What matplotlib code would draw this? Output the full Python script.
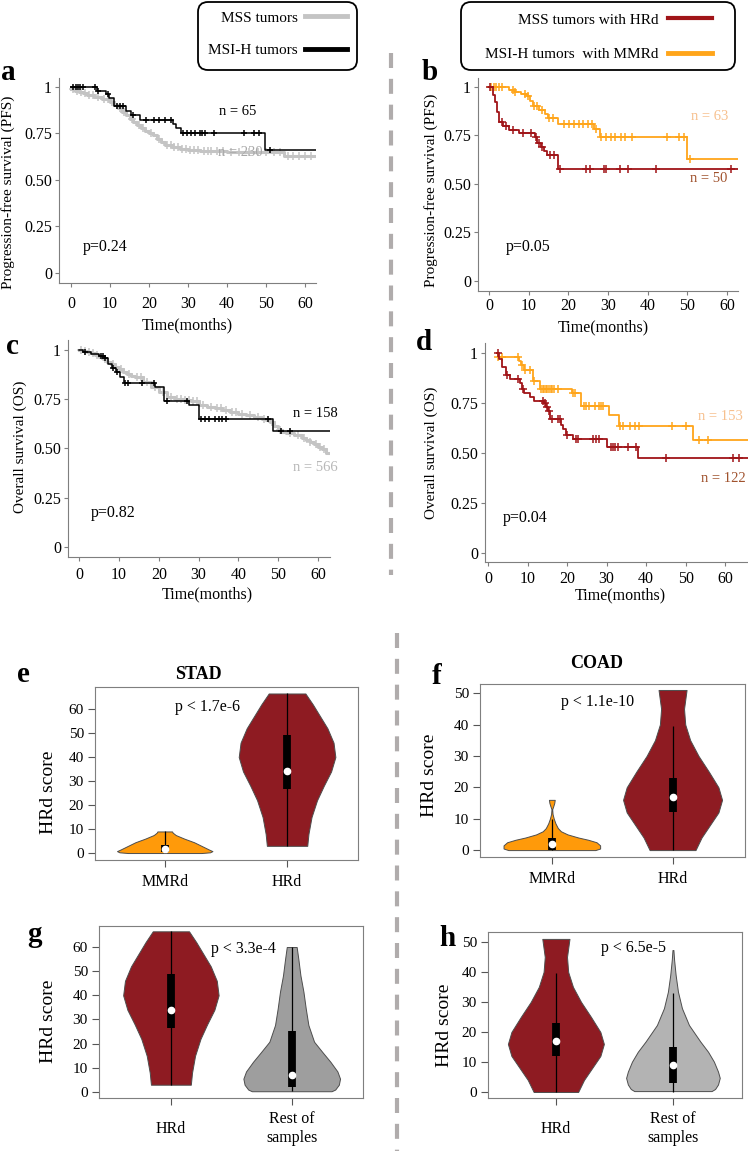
import numpy as np
import matplotlib
matplotlib.use("Agg")
import matplotlib.pyplot as plt
from matplotlib.lines import Line2D
from matplotlib.patches import FancyBboxPatch
from matplotlib.transforms import IdentityTransform

plt.rcParams["font.family"] = ["Liberation Serif", "DejaVu Serif"]

W, H = 748, 1151

# ── Kaplan-Meier step data (months, survival) ───────────────────────────────
# a: PFS, MSS vs MSI-H
a_mss_t = [0, 1, 2, 3, 4, 6, 8, 10, 11, 12, 13, 14, 15, 16, 17, 18, 19, 20, 21, 22,
           23, 24, 26, 28, 30, 33, 40, 54.7]
a_mss_s = [0.99, 0.98, 0.975, 0.965, 0.955, 0.945, 0.935, 0.92, 0.905, 0.885, 0.865,
           0.85, 0.83, 0.81, 0.795, 0.78, 0.765, 0.755, 0.74, 0.72, 0.705, 0.69,
           0.675, 0.668, 0.662, 0.657, 0.652, 0.627]
a_mss_cens = [0.5, 1.5, 2.5, 3.5, 4.5, 5.5, 7, 8.5, 9.5, 10.5, 12.5, 13.5, 15.5, 17.5,
              18.5, 20.5, 22.5, 24.5, 25.5, 26.5, 27.5, 28.5, 29.5, 30.5, 31.5, 32.5,
              34, 35, 36, 37.5, 39, 41, 43, 45.5, 48, 50, 52, 53.5, 55.5, 57, 58.5, 60, 61.5]
a_msi_t = [0, 6.6, 9.0, 9.8, 11.1, 14.0, 15.3, 17.7, 26.2, 27.0, 28.3, 49.7]
a_msi_s = [1.0, 0.98, 0.96, 0.94, 0.90, 0.87, 0.85, 0.82, 0.80, 0.78, 0.75, 0.66]
a_msi_cens = [0.5, 1.2, 1.8, 2.4, 3.0, 6.2, 7.0, 9.4, 11.8, 12.6, 13.4, 16.0, 19.2,
              21.2, 22.6, 24.2, 25.6, 28.8, 29.8, 30.8, 31.8, 33.0, 33.6, 34.4, 36.6,
              44.4, 46.8, 48.2, 51.0]

# b: PFS, MSS with HRd vs MSI-H with MMRd
b_hrd_t = [0, 0.9, 1.6, 2.1, 2.6, 3.6, 5.0, 7.5, 11.6, 12.2, 13.0, 13.8, 14.6, 17.4]
b_hrd_s = [1.0, 0.96, 0.92, 0.87, 0.82, 0.80, 0.78, 0.76, 0.74, 0.71, 0.69, 0.67, 0.65, 0.575]
b_hrd_cens = [0.3, 3.2, 4.2, 6.0, 8.5, 10.6, 11.9, 12.5, 13.4, 15.4, 16.4, 18.0, 24.5,
              25.4, 29.0, 29.6, 33.0, 35.0, 42.0, 61.0]
b_mmr_t = [0, 5.0, 6.5, 8.0, 9.5, 10.3, 11.0, 12.5, 14.0, 14.8, 17.5, 26.5, 28.0, 50.0]
b_mmr_s = [1.0, 0.985, 0.975, 0.965, 0.955, 0.93, 0.90, 0.88, 0.86, 0.84, 0.81, 0.785, 0.74, 0.63]
b_mmr_cens = [0.5, 1.2, 1.8, 2.5, 3.2, 6.0, 6.6, 9.0, 9.8, 11.4, 12.2, 13.4, 15.2, 16.2,
              19.0, 20.2, 21.4, 22.6, 23.8, 25.0, 26.0, 27.0, 28.3, 29.6, 30.8, 31.8,
              33.2, 34.4, 36.0, 44.8, 48.0, 49.2, 50.8]

# c: OS, MSS vs MSI-H
c_mss_t = [0, 1, 2, 3, 4, 5, 6, 7, 8, 9, 10, 11, 12, 13, 14, 16, 18, 20, 22, 24, 26,
           28, 30, 32, 34, 36, 38, 40, 42, 44, 46, 47, 48, 49, 50, 51, 52, 54, 56, 57,
           58, 59, 60, 61, 62]
c_mss_s = [1.0, 0.995, 0.99, 0.985, 0.975, 0.965, 0.955, 0.94, 0.93, 0.915, 0.905, 0.89,
           0.88, 0.87, 0.86, 0.835, 0.81, 0.785, 0.76, 0.75, 0.745, 0.74, 0.72, 0.712,
           0.705, 0.695, 0.685, 0.675, 0.668, 0.66, 0.652, 0.645, 0.635, 0.615, 0.595,
           0.585, 0.58, 0.57, 0.555, 0.545, 0.535, 0.525, 0.51, 0.495, 0.475]
c_mss_cens = [0.5, 1.5, 2.5, 3.5, 4.5, 6.5, 8.5, 10.5, 12.5, 14.5, 15.5, 17, 19, 21, 23,
              24.5, 25.5, 26.5, 27.5, 28.5, 29.5, 31, 33, 34.5, 35.5, 37, 38.5, 39.5, 41,
              43, 45, 46.5, 48.5, 50.5, 53, 55, 56.5, 58, 59.5, 60.5, 61.5]
c_msi_t = [0, 1.0, 3.0, 5.0, 6.5, 7.2, 8.2, 9.2, 10.2, 11.2, 19.0, 21.2, 27.5, 30.0, 48.8]
c_msi_s = [1.0, 0.99, 0.98, 0.97, 0.96, 0.93, 0.91, 0.89, 0.86, 0.83, 0.81, 0.74, 0.72,
           0.65, 0.59]
c_msi_cens = [1.5, 5.5, 6.0, 6.6, 8.6, 9.6, 11.6, 12.2, 15.8, 18.8, 22.0, 27.0, 30.5,
              31.5, 32.5, 34.0, 35.0, 35.8, 37.0, 47.5, 50.8, 53.0]

# d: OS, MSS with HRd vs MSI-H with MMRd
d_hrd_t = [2.2, 2.8, 3.5, 4.5, 5.5, 8.0, 8.6, 9.1, 10.5, 11.5, 14.2, 14.7, 15.1, 15.6,
           18.5, 19.0, 19.6, 21.5, 30.0, 38.0]
d_hrd_s = [1.0, 0.97, 0.93, 0.89, 0.87, 0.85, 0.82, 0.80, 0.78, 0.76, 0.75, 0.73, 0.71,
           0.67, 0.64, 0.62, 0.59, 0.57, 0.53, 0.475]
d_hrd_cens = [2.6, 4.8, 7.6, 8.8, 13.8, 14.4, 14.9, 15.3, 16.2, 17.6, 18.2, 20.0, 22.3,
              22.8, 26.6, 27.2, 28.0, 31.0, 31.6, 32.2, 33.0, 35.5, 37.5, 45.0, 62.0, 63.6]
d_mmr_t = [2.2, 2.6, 7.8, 8.3, 9.0, 11.3, 13.2, 21.2, 23.5, 30.5, 33.2, 51.8]
d_mmr_s = [1.0, 0.98, 0.96, 0.94, 0.915, 0.86, 0.82, 0.80, 0.735, 0.69, 0.635, 0.565]
d_mmr_cens = [2.6, 3.6, 7.6, 8.6, 9.4, 10.6, 11.6, 13.4, 13.8, 14.2, 14.6, 15.0, 15.4,
              15.8, 16.2, 16.6, 17.6, 21.6, 22.0, 24.2, 24.8, 25.6, 27.0, 28.0, 28.6,
              29.2, 33.4, 34.2, 36.0, 37.2, 38.2, 46.6, 50.0, 53.4, 55.6]

surv_ticks = [0, 0.25, 0.5, 0.75, 1.0]
surv_tick_labels = ["0", "0.25", "0.50", "0.75", "1"]
month_ticks = [0, 10, 20, 30, 40, 50, 60]

# ── Violin profiles: HRd score level -> half width (category units) ─────────
stad_mmr_y = [0, 0.3, 0.8, 1.5, 3, 4.5, 6, 7.5, 8.5, 9]
stad_mmr_w = [0.30, 0.37, 0.39, 0.36, 0.30, 0.24, 0.16, 0.09, 0.065, 0.06]
stad_hrd_y = [3, 8, 15, 22, 28, 34, 40, 46, 52, 57, 62, 66.5]
stad_hrd_w = [0.165, 0.175, 0.20, 0.245, 0.30, 0.36, 0.395, 0.38, 0.33, 0.27, 0.21, 0.15]
stad_rest_y = [0.3, 1, 3, 5.5, 8.5, 12.5, 16.5, 20.8, 27.7, 34.6, 41.5, 48.3, 55, 60]
stad_rest_w = [0.33, 0.36, 0.39, 0.40, 0.378, 0.32, 0.254, 0.185, 0.138, 0.116, 0.097,
               0.072, 0.055, 0.041]
coad_mmr_y = [0, 0.5, 1.5, 2.5, 3.3, 4, 5, 6, 7, 8.5, 10, 11.5, 13, 14, 15, 16]
coad_mmr_w = [0.36, 0.40, 0.40, 0.37, 0.30, 0.22, 0.13, 0.075, 0.05, 0.03, 0.016, 0.006,
              0.003, 0.012, 0.02, 0.024]
coad_hrd_y = [0, 4, 8, 12, 16, 20, 25, 30, 35, 40, 45, 51]
coad_hrd_w = [0.19, 0.24, 0.31, 0.38, 0.41, 0.38, 0.30, 0.215, 0.146, 0.105, 0.095, 0.116]
coad_rest_y = [0.3, 1, 2.5, 4.7, 6.8, 10.1, 13.4, 16.8, 22.3, 27.9, 33.4, 39, 44, 47.3]
coad_rest_w = [0.33, 0.36, 0.385, 0.40, 0.385, 0.35, 0.30, 0.234, 0.137, 0.077, 0.043,
               0.023, 0.01, 0.004]

# box stats: (low whisker, q1, median, q3, high whisker)
stad_mmr_box = (0, 0.5, 1.5, 3.5, 9)
stad_hrd_box = (3, 26.5, 34, 49, 66.5)
stad_rest_box = (0.3, 1.9, 7, 25.2, 60)
coad_mmr_box = (0, 0, 2, 4, 10)
coad_hrd_box = (0, 12, 17, 23, 39.5)
coad_rest_box = (0, 3.1, 9, 15, 33)

ORANGE = "#ff9a0a"
DARKRED = "#8e1b22"
KM_RED = "#a01418"
KM_ORANGE = "#ffa51a"

fig = plt.figure(figsize=(W / 100, H / 100), dpi=100)


def px_box(l, t, r, b):
    return [l / W, 1 - b / H, (r - l) / W, (b - t) / H]


def km(ax, t, s, t_end, cens, color, lw, ms=5.5):
    tt = list(t) + [t_end]
    ss = list(s) + [s[-1]]
    ax.step(tt, ss, where="post", color=color, lw=lw)
    cens = np.asarray(cens)
    idx = np.searchsorted(t, cens, side="right") - 1
    ax.plot(cens, np.asarray(s)[idx], "+", color=color, ms=ms, mew=1.1)


def surv_axes(box, xlim, ylim, ylabel, ylab_xy, xlab_xy, xpad):
    ax = fig.add_axes(px_box(*box))
    ax.set_facecolor("none")
    ax.set_xlim(*xlim)
    ax.set_ylim(*ylim)
    for sp in ("top", "right"):
        ax.spines[sp].set_visible(False)
    for sp in ("left", "bottom"):
        ax.spines[sp].set_color("#7f7f7f")
    ax.set_yticks(surv_ticks)
    ax.set_yticklabels(surv_tick_labels)
    ax.set_xticks(month_ticks)
    ax.tick_params(axis="y", colors="#7f7f7f", labelcolor="black", labelsize=11.5, length=3, pad=2)
    ax.tick_params(axis="x", colors="#7f7f7f", labelcolor="black", labelsize=11.5, length=3, pad=xpad)
    ax.set_ylabel(ylabel, fontsize=11)
    ax.yaxis.set_label_coords(*ylab_xy)
    ax.set_xlabel("Time(months)", fontsize=11.5)
    ax.xaxis.set_label_coords(*xlab_xy)
    return ax


# ── a ───────────────────────────────────────────────────────────────────────
ax = surv_axes((59, 78, 316, 283), (-3.1, 62.8), (-0.054, 1.048),
               "Progression-free survival (PFS)", (-0.171, 0.44), (0.5, -0.17), 6)
km(ax, a_mss_t, a_mss_s, 62.7, a_mss_cens, "#c4c4c4", 2.2)
km(ax, a_msi_t, a_msi_s, 62.7, a_msi_cens, "black", 1.1, ms=5)
ax.text(42.6, 0.866, "n = 65", fontsize=10.5, ha="center", va="center")
ax.text(43.3, 0.65, "n = 230", fontsize=10.5, ha="center", va="center", color="#a8a8a8")
ax.text(8.7, 0.14, "p=0.24", fontsize=11.5, ha="center", va="center")

# ── b ───────────────────────────────────────────────────────────────────────
ax = surv_axes((478, 78, 738, 291), (-2.8, 62.8), (-0.052, 1.046),
               "Progression-free survival (PFS)", (-0.154, 0.474), (0.48, -0.135), 2)
km(ax, b_mmr_t, b_mmr_s, 63, b_mmr_cens, KM_ORANGE, 1.3)
km(ax, b_hrd_t, b_hrd_s, 63, b_hrd_cens, KM_RED, 1.3)
ax.text(55.7, 0.845, "n = 63", fontsize=10.5, ha="center", va="center", color="#f7c08e")
ax.text(55.4, 0.53, "n = 50", fontsize=10.5, ha="center", va="center", color="#a0522d")
ax.text(9.8, 0.175, "p=0.05", fontsize=11.5, ha="center", va="center")

# ── c ───────────────────────────────────────────────────────────────────────
ax = surv_axes((68, 340, 330, 557), (-2.8, 63.0), (-0.05, 1.05),
               "Overall survival (OS)", (-0.156, 0.507), (0.53, -0.135), 4.5)
km(ax, c_mss_t, c_mss_s, 62.7, c_mss_cens, "#c4c4c4", 2.2)
km(ax, c_msi_t, c_msi_s, 63, c_msi_cens, "black", 1.1, ms=5)
ax.text(59.4, 0.675, "n = 158", fontsize=10.5, ha="center", va="center")
ax.text(59.4, 0.406, "n = 566", fontsize=10.5, ha="center", va="center", color="#b8b8b8")
ax.text(8.6, 0.173, "p=0.82", fontsize=11.5, ha="center", va="center")

# ── d ───────────────────────────────────────────────────────────────────────
ax = surv_axes((485, 343, 748, 562), (-0.8, 65.8), (-0.045, 1.05),
               "Overall survival (OS)", (-0.179, 0.498), (0.513, -0.115), 3.5)
km(ax, d_mmr_t, d_mmr_s, 65.8, d_mmr_cens, KM_ORANGE, 1.3)
km(ax, d_hrd_t, d_hrd_s, 65.8, d_hrd_cens, KM_RED, 1.3)
ax.text(58.7, 0.68, "n = 153", fontsize=10.5, ha="center", va="center", color="#f7c08e")
ax.text(59.5, 0.375, "n = 122", fontsize=10.5, ha="center", va="center", color="#a0522d")
ax.text(9.4, 0.175, "p=0.04", fontsize=11.5, ha="center", va="center")


# ── violins ─────────────────────────────────────────────────────────────────
def violin(ax, pos, ys, ws, stats, color):
    ys = np.asarray(ys)
    ws = np.asarray(ws)
    ax.fill_betweenx(ys, pos - ws, pos + ws, facecolor=color, edgecolor="#4d4d4d", lw=0.7)
    lo, q1, med, q3, hi = stats
    ax.vlines(pos, lo, hi, color="black", lw=0.9)
    ax.vlines(pos, q1, q3, color="black", lw=5.6)
    ax.plot(pos, med, "o", color="white", ms=4.5, mec="white")


def violin_axes(box, xlim, ylim, yticks, labels, ylab_xy, label_pad):
    ax = fig.add_axes(px_box(*box))
    ax.set_facecolor("none")
    ax.set_xlim(*xlim)
    ax.set_ylim(*ylim)
    for sp in ax.spines.values():
        sp.set_color("#7f7f7f")
    ax.set_yticks(yticks)
    ax.set_xticks([1, 2])
    ax.set_xticklabels(labels, va="center")
    ax.tick_params(axis="y", colors="#555555", labelcolor="black", labelsize=11, length=5, pad=3)
    ax.tick_params(axis="x", colors="#555555", labelcolor="black", labelsize=11.5, length=5, pad=label_pad)
    ax.set_ylabel("HRd score", fontsize=14)
    ax.yaxis.set_label_coords(*ylab_xy)
    return ax


# e: STAD
ax = violin_axes((95, 687, 358, 860), (0.43, 2.58), (-2.9, 69.2), range(0, 61, 10),
                 ["MMRd", "HRd"], (-0.144, 0.393), 11)
violin(ax, 1, stad_mmr_y, stad_mmr_w, stad_mmr_box, ORANGE)
violin(ax, 2, stad_hrd_y, stad_hrd_w, stad_hrd_box, DARKRED)
ax.text(1.35, 60.8, "p < 1.7e-6", fontsize=11.5, ha="center", va="center")
ax.text(0.392, 1.07, "STAD", fontsize=13, fontweight="bold", ha="center", va="center",
        transform=ax.transAxes)

# f: COAD
ax = violin_axes((480, 684, 745, 857), (0.405, 2.6), (-2.2, 52.9), range(0, 51, 10),
                 ["MMRd", "HRd"], (-0.158, 0.474), 11)
violin(ax, 1, coad_mmr_y, coad_mmr_w, coad_mmr_box, ORANGE)
violin(ax, 2, coad_hrd_y, coad_hrd_w, coad_hrd_box, DARKRED)
ax.text(1.38, 47.1, "p < 1.1e-10", fontsize=11.5, ha="center", va="center")
ax.text(0.44, 1.12, "COAD", fontsize=13, fontweight="bold", ha="center", va="center",
        transform=ax.transAxes)

# g: STAD HRd vs rest
ax = violin_axes((99, 926, 363, 1098), (0.405, 2.59), (-2.5, 68.7), range(0, 61, 10),
                 ["HRd", "Rest of\nsamples"], (-0.159, 0.448), 17)
violin(ax, 1, stad_hrd_y, stad_hrd_w, stad_hrd_box, DARKRED)
violin(ax, 2, stad_rest_y, stad_rest_w, stad_rest_box, "#9e9e9e")
ax.text(1.6, 59.1, "p < 3.3e-4", fontsize=11.5, ha="center", va="center")

# h: COAD HRd vs rest
ax = violin_axes((488, 932, 742, 1098), (0.42, 2.59), (-2.0, 53.3), range(0, 51, 10),
                 ["HRd", "Rest of\nsamples"], (-0.138, 0.44), 17)
violin(ax, 1, coad_hrd_y, coad_hrd_w, coad_hrd_box, DARKRED)
violin(ax, 2, coad_rest_y, coad_rest_w, coad_rest_box, "#b3b3b3")
ax.text(1.66, 48.0, "p < 6.5e-5", fontsize=11.5, ha="center", va="center")

# ── legends: frameless entries + rounded boxes drawn separately ─────────────
leg_kw = dict(markerfirst=False, loc="upper right", fontsize=11, frameon=False,
              borderaxespad=0, borderpad=0)
fig.legend([Line2D([], [], color="#c4c4c4", lw=3.5), Line2D([], [], color="black", lw=3.5)],
           ["MSS tumors", "MSI-H tumors"], bbox_to_anchor=(347 / W, 1 - 11 / H),
           handlelength=2.75, handletextpad=0.46, labelspacing=1.21, **leg_kw)
fig.legend([Line2D([], [], color=KM_RED, lw=3), Line2D([], [], color=KM_ORANGE, lw=3.5)],
           ["MSS tumors with HRd", "MSI-H tumors  with MMRd"],
           bbox_to_anchor=(712 / W, 1 - 13 / H),
           handlelength=2.88, handletextpad=0.6, labelspacing=1.34, **leg_kw)
for x0, y0, x1, y1 in [(198, 2, 357, 70), (461, 2, 735, 70)]:
    fig.add_artist(FancyBboxPatch((x0, H - y1), x1 - x0, y1 - y0,
                                  boxstyle="round,pad=0,rounding_size=10",
                                  transform=IdentityTransform(), facecolor="none",
                                  edgecolor="black", lw=1.3))

# ── dashed dividers and panel letters ───────────────────────────────────────
for x, y0, y1 in [(391, 53, 575), (397, 633, 1151)]:
    fig.add_artist(Line2D([x / W, x / W], [1 - y0 / H, 1 - y1 / H], transform=fig.transFigure,
                          color="#b0acac", lw=3, ls=(0, (3.6, 2.6))))

for letter, x, y in [("a", 8, 73), ("b", 430, 72), ("c", 12, 347), ("d", 424, 343),
                     ("e", 23, 675), ("f", 437, 676), ("g", 35, 935), ("h", 447, 938)]:
    fig.text(x / W, 1 - y / H, letter, fontsize=21, fontweight="bold", ha="center", va="center")

fig.savefig("out.png", dpi=100, facecolor="white")
